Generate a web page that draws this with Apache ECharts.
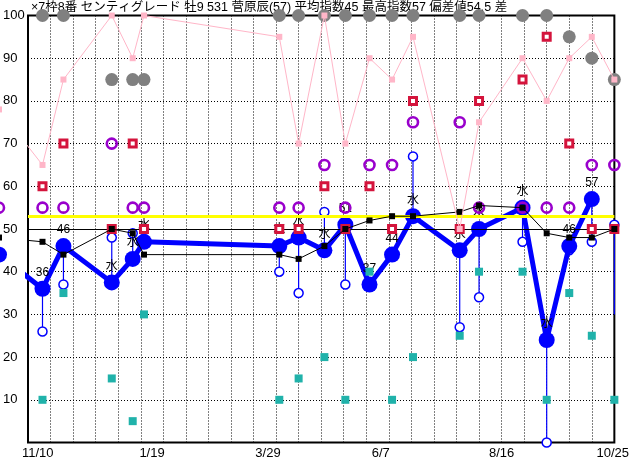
<!DOCTYPE html>
<html><head><meta charset="utf-8">
<script src="https://cdn.jsdelivr.net/npm/echarts@6/dist/echarts.min.js"></script>
<style>html,body{margin:0;padding:0;background:#fff}#c{width:632px;height:460px}</style>
</head><body><div id="c"></div>
<script>
// ---- data (race positions in days from the axis start) ----
const titleText = '×7枠8番 センティグレード 牡9 531 菅原辰(57) 平均指数45 最高指数57 偏差値54.5 差';
const raceDays    = [-18, 9, 22, 52, 65, 72, 156, 168, 184, 197, 212, 226, 239, 268, 280, 307, 322, 336, 350, 364];
const mainIndex   = [44, 36, 46, 37.5, 43, 47, 46, 48, 45, 51, 37, 44, 53, 45, 50, 55, 24, 46, 57, null];
const pointLabels = ['', '36', '46', '水', '水', '水', '水', '水', '水', '51', '37', '44', '水', '水', '水', '水', '水', '46', '57', ''];
const avgIndex    = [48, 47, 44, 50, 49, 44, 44, 43, 46, 50, 52, 53, 53, 54, 55.5, 55, 49, 48, 48, 50];
const lowIndex    = [null, 26, 37, 48, 49, 47, 40, 35, 54, 37, 37, 44, 67, 27, 34, 47, 0, 45, 47, 51];
const purpleIndex = [55, 55, 55, 70, 55, 55, 55, 55, 65, 55, 65, 65, 75, 75, 55, 55, 55, 55, 65, 65];
const redIndex    = [null, 60, 70, 50, 70, 50, 50, 50, 60, 50, 60, 50, 80, 50, 80, 85, 95, 70, 50, 50];
const tealIndex   = [null, 10, 35, 15, 5, 30, 10, 15, 20, 10, 40, 10, 20, 25, 40, 40, 10, 35, 25, 10];
const pinkIndex   = [78, 65, 85, 100, 90, 100, 95, 70, 100, 70, 90, 85, 95, 50, 75, 90, 80, 90, 95, 85];
const grayIndex   = [null, 100, 100, 85, 85, 85, 100, 100, 100, 100, 100, 100, 100, 100, 100, 100, 100, 95, 90, 85];
const lastStemEnd = 30;
const tickLabels  = ['11/10', '1/19', '3/29', '6/7', '8/16', '10/25'];
const baseLine = 50;
const devLine = 53;

// ---- layout ----
const labelAt = [6, 77, 149, 219, 294, 363];
const FONT = '"Liberation Sans", "Noto Sans CJK JP", sans-serif';

function pts(arr) {
  const out = [];
  arr.forEach((v, i) => { if (v !== null) out.push([raceDays[i], v, i]); });
  return out;
}
const stems = [];
raceDays.forEach((d, i) => {
  if (lowIndex[i] === null) return;
  const top = mainIndex[i] !== null ? mainIndex[i] : lastStemEnd;
  stems.push([d, top, lowIndex[i]]);
});

const chart = echarts.init(document.getElementById('c'), null, {renderer: 'canvas'});
chart.setOption({
  animation: false,
  backgroundColor: '#fff',
  title: {
    text: titleText, left: 26, top: -4,
    textStyle: {fontSize: 12.5, fontWeight: 'normal', color: '#000', fontFamily: FONT}
  },
  grid: {left: 25, right: 15, top: 15.5, bottom: 17.5, show: true, borderColor: '#000', borderWidth: 2, backgroundColor: 'transparent'},
  xAxis: {
    type: 'value', min: 0, max: 364, interval: 14,
    axisLine: {show: false}, axisTick: {show: false},
    splitLine: {show: true, lineStyle: {color: '#000', width: 1, type: [1, 2]}},
    axisLabel: {
      customValues: labelAt, margin: 4, color: '#000', fontSize: 13, fontFamily: FONT,
      formatter: v => { const i = labelAt.indexOf(v); return i >= 0 ? tickLabels[i] : ''; }
    }
  },
  yAxis: {
    type: 'value', min: 0, max: 100, interval: 10,
    axisLine: {show: false}, axisTick: {show: false},
    splitLine: {show: true, lineStyle: {color: '#000', width: 1, type: [1, 2]}},
    axisLabel: {
      align: 'left', margin: 25, color: '#000', fontSize: 13, fontFamily: FONT,
      formatter: v => v === 0 ? '' : String(v)
    }
  },
  series: [
    {
      type: 'line', data: [], z: 1, silent: true,
      markLine: {
        silent: true, symbol: ['none', 'none'], label: {show: false}, animation: false,
        data: [
          {yAxis: devLine, lineStyle: {color: '#FFFF00', width: 3, type: 'solid'}},
          {yAxis: baseLine, lineStyle: {color: '#000', width: 1, type: 'solid'}}
        ]
      }
    },
    {
      type: 'custom', z: 2, clip: false, silent: true,
      data: stems,
      renderItem: (params, api) => {
        const a = api.coord([api.value(0), api.value(1)]);
        const b = api.coord([api.value(0), api.value(2)]);
        return {type: 'line', shape: {x1: a[0], y1: a[1], x2: b[0], y2: b[1]},
                style: {stroke: '#0000FF', lineWidth: 1.2}};
      }
    },
    {
      type: 'scatter', z: 3, clip: false, silent: true,
      data: pts(lowIndex), symbol: 'circle', symbolSize: 9,
      itemStyle: {color: '#fff', borderColor: '#0000FF', borderWidth: 1.5, opacity: 1}
    },
    {
      type: 'line', z: 4, clip: false, silent: true,
      data: pts(mainIndex), symbol: 'circle', symbolSize: 16, showAllSymbol: true,
      lineStyle: {color: '#0000FF', width: 5},
      itemStyle: {color: '#0000FF', borderWidth: 0},
      label: {
        show: true, position: 'top', distance: 2, color: '#000', fontSize: 12, fontFamily: FONT,
        formatter: p => pointLabels[p.data[2]]
      }
    },
    {
      type: 'scatter', z: 5, clip: false, silent: true,
      data: pts(purpleIndex), symbol: 'circle', symbolSize: 10,
      itemStyle: {color: 'rgba(0,0,0,0)', borderColor: '#9900CC', borderWidth: 2.6, opacity: 1}
    },
    {
      type: 'scatter', z: 6, clip: false, silent: true,
      data: pts(redIndex), symbol: 'rect', symbolSize: 7,
      itemStyle: {color: '#fff', borderColor: '#D4143C', borderWidth: 3, opacity: 1}
    },
    {
      type: 'line', z: 7, clip: false, silent: true,
      data: pts(avgIndex), symbol: 'rect', symbolSize: 6, showAllSymbol: true,
      lineStyle: {color: '#000', width: 1},
      itemStyle: {color: '#000', borderWidth: 0}
    },
    {
      type: 'scatter', z: 8, clip: false, silent: true,
      data: pts(tealIndex), symbol: 'rect', symbolSize: 8,
      itemStyle: {color: '#20B2AA', opacity: 1}
    },
    {
      type: 'scatter', z: 8, clip: false, silent: true,
      data: pts(grayIndex), symbol: 'circle', symbolSize: 13,
      itemStyle: {color: '#808080', opacity: 1}
    },
    {
      type: 'line', z: 9, clip: false, silent: true,
      data: pts(pinkIndex), symbol: 'rect', symbolSize: 6, showAllSymbol: true,
      lineStyle: {color: '#FFB6C8', width: 1},
      itemStyle: {color: '#FFB6C8', borderWidth: 0}
    }
  ]
});
</script>
</body></html>
